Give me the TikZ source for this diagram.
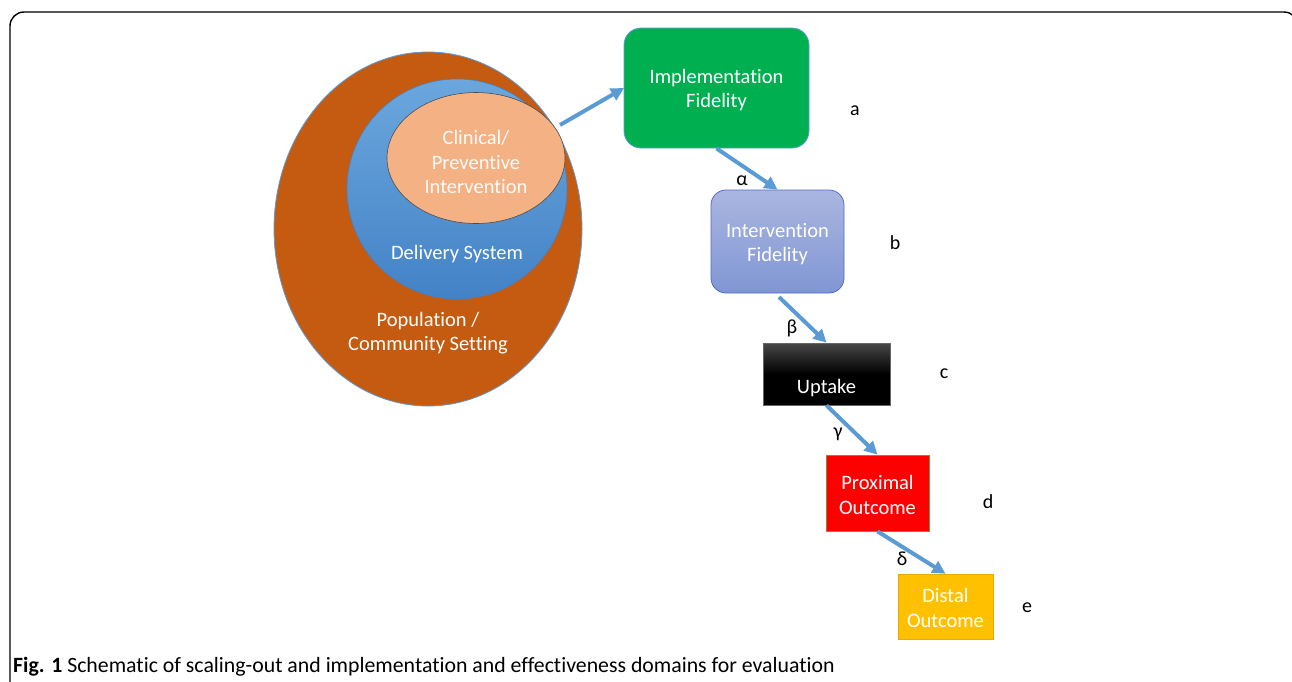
\documentclass[tikz,border=0pt]{standalone}
\usepackage{fontspec}
\setmainfont{Carlito}[RawFeature={-liga;-clig;-calt;-dlig}]
\usetikzlibrary{arrows.meta,shapes.geometric}
\definecolor{arrowblue}{HTML}{5B9BD5}
\definecolor{deltop}{HTML}{6BA7DE}
\definecolor{delbot}{HTML}{4382C6}
\definecolor{popfill}{HTML}{C55A11}
\definecolor{peach}{HTML}{F4B183}
\definecolor{greenbox}{HTML}{00B050}
\definecolor{redbox}{HTML}{FF0000}
\definecolor{goldbox}{HTML}{FFC000}
\tikzset{
  txt/.style={font=\fontsize{20.5}{24.5}\selectfont, text=white, align=center},
  flow/.style={draw=arrowblue, line width=4pt, -{Triangle[length=13pt,width=13pt]}},
  lbl/.style={font=\fontsize{20}{24}\selectfont, text=black},
  greek/.style={font=\fontsize{20}{24}\selectfont, text=black},
}
\begin{document}
\begin{tikzpicture}[x=1pt,y=-1pt]
\useasboundingbox (0,0) rectangle (1292,681);
\fill[white] (0,0) rectangle (1292,681);
\begin{scope}
\clip (0,0) rectangle (1292,681);
\draw[line width=1.4pt, rounded corners=14pt] (10,700) -- (10,12) -- (1298,12) -- (1298,700);
\end{scope}

% nested ellipses
\node[ellipse, draw=arrowblue, line width=0.8pt, fill=popfill, minimum width=308pt, minimum height=354pt, inner sep=0pt] (pop) at (428,229) {};
\node[circle, draw=delbot, line width=0.6pt, top color=deltop, bottom color=delbot, minimum size=220pt, inner sep=0pt] (del) at (457,189) {};
\node[ellipse, draw=black!70, line width=0.6pt, fill=peach, minimum width=178pt, minimum height=131pt, inner sep=0pt] (clin) at (476,158) {};
\node[txt, text=white!95!peach] (clintxt) at (476,162) {Clinical/\\Preventive\\Intervention};
\node[txt] (deltxt) at (457,254) {Delivery System};
\node[txt] (poptxt) at (428,333) {Population /\\Community Setting};

% boxes
\node[draw=arrowblue, line width=0.8pt, fill=greenbox, rounded corners=17pt, minimum width=185pt, minimum height=120pt, inner sep=0pt] (impl) at (716.5,88) {};
\node[txt] (impltxt) at (716.5,90) {Implementation\\Fidelity};
\node[draw={rgb,255:red,80;green,110;blue,190}, line width=0.8pt, top color={rgb,255:red,170;green,182;blue,224}, bottom color={rgb,255:red,128;green,150;blue,212}, rounded corners=15pt, minimum width=133pt, minimum height=103pt, inner sep=0pt] (interv) at (777.5,241.5) {};
\node[txt] (intervtxt) at (777.5,244) {Intervention\\Fidelity};
\node[draw=black!60, line width=0.8pt, top color=black!72, bottom color=black, middle color=black, minimum width=127pt, minimum height=62pt, inner sep=0pt] (upt) at (826.5,374) {};
\node[txt] (upttxt) at (826.5,388) {Uptake};
\node[draw={rgb,255:red,130;green,140;blue,60}, line width=0.8pt, fill=redbox, minimum width=103pt, minimum height=76pt, inner sep=0pt] (prox) at (877.5,493) {};
\node[txt] (proxtxt) at (877.5,495) {Proximal\\Outcome};
\node[draw=goldbox!90!black, line width=0.6pt, fill=goldbox, minimum width=95pt, minimum height=65pt, inner sep=0pt] (dist) at (945.5,606.5) {};
\node[txt] (disttxt) at (945.5,608) {Distal\\Outcome};

% side letters
\node[lbl] (la) at (855,111) {a};
\node[lbl] (lb) at (895,243) {b};
\node[lbl] (lc) at (944,374) {c};
\node[lbl] (ld) at (988,502) {d};
\node[lbl] (le) at (1027,608) {e};

% arrows
\coordinate (start) at (560,125);
\coordinate (implin) at (624,88);
\coordinate (bs) at (779,297);
\draw[flow] (start) -- (implin);
\draw[flow] (impl.south) -- (interv.north);
\draw[flow] (bs) -- (upt.north);
\draw[flow] (upt.south) -- (prox.north);
\draw[flow] (prox.south) -- (dist.north);
\node[greek] (ga) at (742,181) {α};
\node[greek] (gb) at (792,328) {β};
\node[greek] (gc) at (838,434) {γ};
\node[greek] (gd) at (902,559) {δ};

% caption
\node[anchor=base west, inner sep=0pt, font=\fontsize{21.8}{26}\selectfont] (cap) at (13,672) {\textbf{Fig. 1} Schematic of scaling-out and implementation and effectiveness domains for evaluation};
\end{tikzpicture}
\end{document}
